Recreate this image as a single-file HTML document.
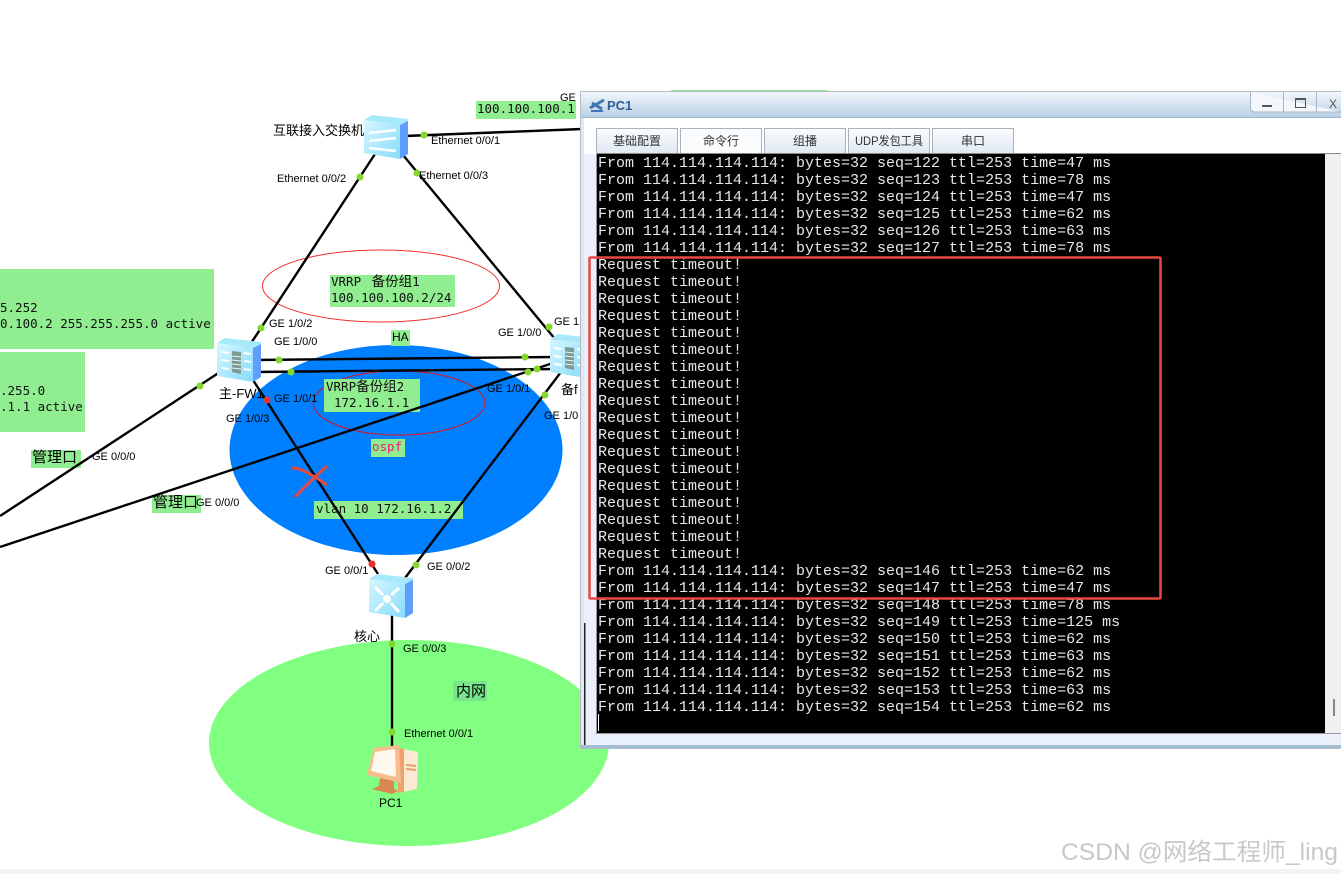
<!DOCTYPE html>
<html><head><meta charset="utf-8"><style>
html,body{margin:0;padding:0;background:#fff;width:1341px;height:874px;overflow:hidden}
svg{display:block}
.l{font-family:"Liberation Sans","Noto Sans CJK SC",sans-serif;font-size:11px;fill:#000}
.c{font-family:"Liberation Sans","Noto Sans CJK SC",sans-serif;font-size:13px;fill:#000}
.m{font-family:"DejaVu Sans Mono","Noto Sans CJK SC",monospace;font-size:12.500px;fill:#111}
.t{font-family:"Liberation Mono",monospace;font-size:15px;fill:#e8e8e8}
.tab{font-family:"Liberation Sans","Noto Sans CJK SC",sans-serif;font-size:12px;fill:#333;text-anchor:middle}
</style></head><body>
<svg width="1341" height="874" viewBox="0 0 1341 874" xmlns="http://www.w3.org/2000/svg">
<defs>
<linearGradient id="tb" x1="0" y1="0" x2="0" y2="1"><stop offset="0" stop-color="#f2f6fb"/><stop offset="1" stop-color="#b9d0e6"/></linearGradient>
<linearGradient id="tabg" x1="0" y1="0" x2="0" y2="1"><stop offset="0" stop-color="#fbfcfe"/><stop offset="1" stop-color="#dfe8f2"/></linearGradient>
<linearGradient id="dev" x1="0" y1="0" x2="1" y2="1"><stop offset="0" stop-color="#d6f6ff"/><stop offset="1" stop-color="#86dcfb"/></linearGradient>
<g id="box">
<path d="M0 5 L8 0 L44 4 L44 8 L36 10 Z" fill="#a8e8fb"/>
<path d="M0 5 L36 10 L36 44 L0 38 Z" fill="url(#dev)"/>
<path d="M36 10 L44 6 L44 39 L36 44 Z" fill="#5f9efc"/>
</g>
<g id="fw"><use href="#box"/>
<path d="M15 13 L24 14 L24 36 L15 34 Z" fill="#7d9a94"/>
<path d="M15 18 L24 19 M15 22 L24 23 M15 26 L24 27 M15 30 L24 31" stroke="#e6f5f5" stroke-width="1"/>
<path d="M4 14 L12 15 M4 22 L12 23 M4 30 L12 31 M27 15 L34 16 M27 23 L34 24 M27 31 L34 32" stroke="#fff" stroke-width="2"/>
</g>
</defs>
<rect width="1341" height="874" fill="#fff"/>
<rect x="0" y="869" width="1341" height="5" fill="#f3f3f3"/>

<!-- areas -->
<ellipse cx="409" cy="743" rx="200" ry="103" fill="#80ff80"/>
<ellipse cx="396" cy="450" rx="166.500" ry="105" fill="#0080ff"/>
<ellipse cx="381" cy="286" rx="118.500" ry="36" fill="none" stroke="#f03030" stroke-width="1"/>
<ellipse cx="399" cy="403" rx="86" ry="32" fill="none" stroke="#e01020" stroke-width="1"/>

<!-- green boxes -->
<rect x="0" y="269" width="214" height="80" fill="#90ee90"/>
<rect x="0" y="352" width="85" height="80" fill="#90ee90"/>
<rect x="476" y="101" width="100" height="18" fill="#90ee90"/>
<rect x="671" y="90" width="157" height="4" fill="#90ee90"/>
<rect x="330" y="275" width="125" height="32" fill="#90ee90"/>
<rect x="391" y="330" width="19" height="16" fill="#90ee90"/>
<rect x="324" y="379" width="96" height="33" fill="#90ee90"/>
<rect x="371" y="439" width="34" height="18" fill="#90ee90"/>
<rect x="314" y="501" width="149" height="18" fill="#90ee90"/>
<rect x="31" y="450" width="50" height="18" fill="#90ee90"/>
<rect x="152" y="495" width="49" height="18" fill="#90ee90"/>
<rect x="453" y="681" width="34" height="20" fill="#78e68a"/>

<!-- links -->
<g stroke="#000" stroke-width="2.400" fill="none">
<line x1="405" y1="136" x2="582" y2="129"/>
<line x1="375" y1="154" x2="240" y2="360"/>
<line x1="403" y1="155" x2="560" y2="345"/>
<line x1="255" y1="360" x2="556" y2="357"/>
<line x1="255" y1="372" x2="556" y2="369"/>
<line x1="220" y1="372" x2="0" y2="516"/>
<line x1="556" y1="362" x2="0" y2="547"/>
<line x1="253" y1="380" x2="378" y2="574"/>
<line x1="561" y1="372" x2="405" y2="578"/>
<line x1="392" y1="610" x2="392" y2="750"/>
</g>

<!-- ports -->
<g fill="#84d82c">
<circle cx="424" cy="135" r="3.500"/><circle cx="360" cy="177" r="3.500"/><circle cx="417" cy="173" r="3.500"/>
<circle cx="261" cy="328" r="3.500"/><circle cx="549" cy="327" r="3.500"/>
<circle cx="279" cy="360" r="3.500"/><circle cx="291" cy="372" r="3.500"/><circle cx="525" cy="357" r="3.500"/><circle cx="537" cy="369" r="3.500"/><circle cx="528" cy="372" r="3.500"/>
<circle cx="200" cy="386" r="3.500"/><circle cx="545" cy="395" r="3.500"/><circle cx="416" cy="565" r="3.500"/>
<circle cx="392" cy="644" r="3.500"/><circle cx="392" cy="732" r="3.500"/>
</g>
<circle cx="267" cy="400" r="3.500" fill="#f03030"/><circle cx="372" cy="564" r="3.500" fill="#f03030"/>

<!-- red X -->
<path d="M292 468 C302 468 312 475 327 485" stroke="#e8483f" stroke-width="3" fill="none"/>
<path d="M327 466 C316 476 306 485 295 497" stroke="#e8483f" stroke-width="3" fill="none"/>

<!-- devices -->
<g transform="translate(364,115)"><use href="#box"/>
<path d="M5 18 L32 15 M5 26 L32 23 M5 33 L32 36" stroke="#fff" stroke-width="2.500"/></g>
<use href="#fw" transform="translate(217,338)"/>
<use href="#fw" transform="translate(550,334)"/>
<g transform="translate(369,574)"><use href="#box"/>
<circle cx="18" cy="25" r="4" fill="#fff"/>
<path d="M6 13 L14 21 M30 14 L22 21 M6 37 L14 29 M30 38 L22 29" stroke="#fff" stroke-width="3"/></g>
<!-- PC -->
<g transform="translate(366,745)">
<path d="M32 3 L52 7 L51 44 L32 48 Z" fill="#fbe9d4"/>
<path d="M32 3 L38 4 L38 47 L32 48 Z" fill="#eda26c"/>
<path d="M40 20 L50 21 M40 24 L50 25" stroke="#e8a070" stroke-width="2"/>
<path d="M8 3 L33 0 L35 38 L14 33 L1 30 Z" fill="#f8bd8e"/>
<path d="M9 7 L29 4 L30 32 L5 26 Z" fill="#fff8ee"/>
<path d="M14 33 L28 36 L28 44 L32 46 L26 49 L6 44 L13 41 Z" fill="#d88850"/>
</g>

<!-- device labels -->
<text x="273" y="135" class="c">互联接入交换机</text>
<text x="219" y="398" class="c">主-FW1</text>
<text x="561" y="394" class="c">备f</text>
<text x="354" y="641" class="c">核心</text>
<text x="379" y="807" class="c" style="font-size:12px">PC1</text>

<!-- port labels -->
<g class="l">
<text x="560" y="101">GE</text>
<text x="431" y="144">Ethernet 0/0/1</text>
<text x="277" y="182">Ethernet 0/0/2</text>
<text x="419" y="179">Ethernet 0/0/3</text>
<text x="269" y="327">GE 1/0/2</text>
<text x="274" y="345">GE 1/0/0</text>
<text x="498" y="336">GE 1/0/0</text>
<text x="554" y="325">GE 1</text>
<text x="274" y="402">GE 1/0/1</text>
<text x="226" y="422">GE 1/0/3</text>
<text x="487" y="392">GE 1/0/1</text>
<text x="544" y="419">GE 1/0</text>
<text x="92" y="460">GE 0/0/0</text>
<text x="196" y="506">GE 0/0/0</text>
<text x="325" y="574">GE 0/0/1</text>
<text x="427" y="570">GE 0/0/2</text>
<text x="403" y="652">GE 0/0/3</text>
<text x="404" y="737">Ethernet 0/0/1</text>
</g>

<!-- info text -->
<g class="m">
<text x="0" y="312">5.252</text>
<text x="0" y="328">0.100.2 255.255.255.0 active</text>
<text x="0" y="395">.255.0</text>
<text x="0" y="411">.1.1 active</text>
<text x="477" y="113">100.100.100.1</text>
<text x="331" y="286">VRRP <tspan style="font-size:13.500px" dx="3">备份组</tspan>1</text>
<text x="331" y="302">100.100.100.2/24</text>
<text x="326" y="391">VRRP<tspan style="font-size:13.500px">备份组</tspan>2</text>
<text x="334" y="407">172.16.1.1</text>
<text x="372" y="451" style="fill:#f01878">ospf</text>
<text x="316" y="513">vlan 10 172.16.1.2</text>
</g>
<text x="392" y="341" class="c" style="font-size:12px">HA</text>
<text x="32" y="462" class="c" style="font-size:15px">管理口</text>
<text x="153" y="507" class="c" style="font-size:15px">管理口</text>
<text x="456" y="696" class="c" style="font-size:15px">内网</text>

<!-- window -->
<rect x="580.500" y="91.500" width="770" height="657" fill="#e9f0fc" stroke="#b4bcc4"/>
<rect x="581" y="92" width="770" height="25" fill="url(#tb)"/>
<rect x="581" y="117" width="770" height="1" fill="#9db4c8"/>
<rect x="584" y="118" width="760" height="36" fill="#fff"/>
<rect x="581" y="118" width="3" height="628" fill="#dfe8f4"/>
<rect x="584" y="623" width="1.500" height="122" fill="#222"/>
<rect x="581" y="745" width="760" height="3" fill="#a0bdd2"/>
<path d="M590 108 L604 100 M592 103 L602 109" stroke="#3e76b0" stroke-width="3" fill="none"/>
<path d="M591 111 L603 111" stroke="#3e76b0" stroke-width="2"/>
<text x="607" y="110" style="font-family:'Liberation Sans',sans-serif;font-size:13px;font-weight:bold;fill:#2f5f96">PC1</text>
<!-- win buttons -->
<path d="M1250.500 92 V108 Q1250.500 112 1255 112 H1341" fill="#f4f7fb" stroke="#a8b4c0"/>
<path d="M1283.500 92 V112 M1316.500 92 V112" stroke="#a8b4c0"/>
<rect x="1262" y="105" width="10" height="2" fill="#555"/>
<rect x="1295.500" y="98.500" width="10" height="9" fill="none" stroke="#555"/><rect x="1295" y="98" width="11" height="2" fill="#555"/>
<text x="1329" y="108" style="font-family:'Liberation Sans',sans-serif;font-size:12px;fill:#555">X</text>
<!-- tabs -->
<g stroke="#a9b4be" fill="url(#tabg)">
<rect x="596.500" y="128.500" width="81" height="25"/>
<rect x="680.500" y="128.500" width="81" height="25" fill="#fbfcfd"/>
<rect x="764.500" y="128.500" width="81" height="25"/>
<rect x="848.500" y="128.500" width="81" height="25"/>
<rect x="932.500" y="128.500" width="81" height="25"/>
</g>
<text x="637" y="145" class="tab">基础配置</text>
<text x="721" y="145" class="tab">命令行</text>
<text x="805" y="145" class="tab">组播</text>
<text x="889" y="145" class="tab" textLength="68" lengthAdjust="spacingAndGlyphs">UDP发包工具</text>
<text x="973" y="145" class="tab">串口</text>
<!-- terminal -->
<rect x="597" y="154" width="744" height="579" fill="#f0f0f0"/>
<rect x="597" y="154" width="728" height="579" fill="#000"/>
<rect x="597" y="153" width="744" height="1" fill="#888"/>
<rect x="597" y="733" width="744" height="1" fill="#999"/>
<rect x="596" y="154" width="1" height="580" fill="#999"/>
<rect x="1333" y="699" width="2" height="17" fill="#888"/>
<rect x="598" y="714" width="1" height="17" fill="#fff"/>
<g class="t">
<text x="598" y="167">From 114.114.114.114: bytes=32 seq=122 ttl=253 time=47 ms</text>
<text x="598" y="184">From 114.114.114.114: bytes=32 seq=123 ttl=253 time=78 ms</text>
<text x="598" y="201">From 114.114.114.114: bytes=32 seq=124 ttl=253 time=47 ms</text>
<text x="598" y="218">From 114.114.114.114: bytes=32 seq=125 ttl=253 time=62 ms</text>
<text x="598" y="235">From 114.114.114.114: bytes=32 seq=126 ttl=253 time=63 ms</text>
<text x="598" y="252">From 114.114.114.114: bytes=32 seq=127 ttl=253 time=78 ms</text>
<text x="598" y="269">Request timeout!</text>
<text x="598" y="286">Request timeout!</text>
<text x="598" y="303">Request timeout!</text>
<text x="598" y="320">Request timeout!</text>
<text x="598" y="337">Request timeout!</text>
<text x="598" y="354">Request timeout!</text>
<text x="598" y="371">Request timeout!</text>
<text x="598" y="388">Request timeout!</text>
<text x="598" y="405">Request timeout!</text>
<text x="598" y="422">Request timeout!</text>
<text x="598" y="439">Request timeout!</text>
<text x="598" y="456">Request timeout!</text>
<text x="598" y="473">Request timeout!</text>
<text x="598" y="490">Request timeout!</text>
<text x="598" y="507">Request timeout!</text>
<text x="598" y="524">Request timeout!</text>
<text x="598" y="541">Request timeout!</text>
<text x="598" y="558">Request timeout!</text>
<text x="598" y="575">From 114.114.114.114: bytes=32 seq=146 ttl=253 time=62 ms</text>
<text x="598" y="592">From 114.114.114.114: bytes=32 seq=147 ttl=253 time=47 ms</text>
<text x="598" y="609">From 114.114.114.114: bytes=32 seq=148 ttl=253 time=78 ms</text>
<text x="598" y="626">From 114.114.114.114: bytes=32 seq=149 ttl=253 time=125 ms</text>
<text x="598" y="643">From 114.114.114.114: bytes=32 seq=150 ttl=253 time=62 ms</text>
<text x="598" y="660">From 114.114.114.114: bytes=32 seq=151 ttl=253 time=63 ms</text>
<text x="598" y="677">From 114.114.114.114: bytes=32 seq=152 ttl=253 time=62 ms</text>
<text x="598" y="694">From 114.114.114.114: bytes=32 seq=153 ttl=253 time=63 ms</text>
<text x="598" y="711">From 114.114.114.114: bytes=32 seq=154 ttl=253 time=62 ms</text>
</g>
<rect x="589.500" y="257.500" width="571" height="341" fill="none" stroke="#e8483f" stroke-width="2.500" rx="1"/>
<text x="1061" y="860" style="font-family:'Liberation Sans','Noto Sans CJK SC',sans-serif;font-size:24px;fill:#c8c8c8" textLength="277" lengthAdjust="spacingAndGlyphs">CSDN @网络工程师_ling</text>
</svg>
</body></html>
